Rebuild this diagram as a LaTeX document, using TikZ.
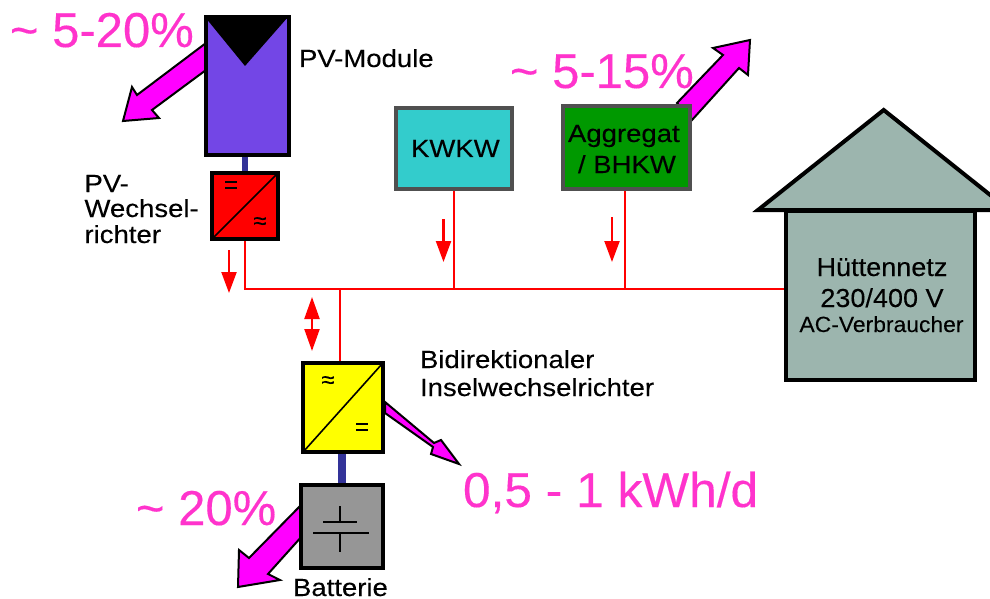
\documentclass[tikz,border=0pt]{standalone}
\usepackage{fontspec}
\setmainfont{Liberation Sans}
\newfontfamily\pinkfam[FakeBold=0.25]{Liberation Sans}
\newfontfamily\pinkwide[FakeBold=0.25,FakeStretch=1.013]{Liberation Sans}
\newfontfamily\blackfam[FakeStretch=1.11,FakeBold=0.2]{Liberation Sans}
\newfontfamily\housefam[FakeStretch=1.04,FakeBold=0.1]{Liberation Sans}
\newfontfamily\symfam[FakeBold=0.3]{Liberation Sans}
\usetikzlibrary{arrows.meta,calc}
\definecolor{pvviolet}{HTML}{7346E6}
\definecolor{navyc}{HTML}{333399}
\definecolor{pinktxt}{HTML}{FF33CC}
\definecolor{magentaf}{HTML}{FF00FF}
\definecolor{kwkwc}{HTML}{33CCCC}
\definecolor{aggc}{HTML}{009900}
\definecolor{housec}{HTML}{9CB5AE}
\definecolor{battc}{HTML}{969696}
\definecolor{edgegrey}{HTML}{505050}
\definecolor{invyellow}{HTML}{FFFF00}
\tikzset{
  box/.style={draw=black,line width=4pt,rectangle,inner sep=0pt},
  gbox/.style={draw=edgegrey,line width=4pt,rectangle,inner sep=0pt},
  lab/.style={anchor=base west,inner sep=0pt,outer sep=0pt,font=\blackfam\fontsize{24.8}{26}\selectfont,text=black},
  hlab/.style={anchor=base,inner sep=0pt,outer sep=0pt,font=\housefam\fontsize{26}{28}\selectfont,text=black},
  pinklab/.style={anchor=base west,inner sep=0pt,outer sep=0pt,font=\pinkfam\fontsize{49}{50}\selectfont,text=pinktxt},
  sym/.style={inner sep=0pt,outer sep=0pt,font=\symfam\fontsize{24}{24}\selectfont,text=black},
  loss/.style={draw=black,line width=2pt,fill=magentaf,line join=miter},
  bus/.style={draw=red,line width=2pt},
  flow/.style={draw=red,line width=2.2pt,-{Triangle[width=15pt,length=21pt]}},
  bothflow/.style={draw=red,line width=2.2pt,{Triangle[width=15pt,length=22pt]}-{Triangle[width=15pt,length=22pt]}},
  dclink/.style={draw=navyc},
  thin/.style={draw=black,line width=1.6pt}
}
\begin{document}
\begin{tikzpicture}[x=1pt,y=-1pt]
\path[use as bounding box,clip] (0,0) rectangle (990,599);
\fill[white] (0,0) rectangle (990,599);

% loss arrows (behind the boxes)
\path[loss] (206,43) -- (137,95) -- (132,87) -- (123,121) -- (159,118) -- (152,110) -- (206,70) -- cycle;
\path[loss] (677,103) -- (723,55) -- (713,48) -- (750,40) -- (748,75) -- (739,68) -- (692,120) -- cycle;
\path[loss] (385,402) -- (434,443) -- (441,440) -- (459,464) -- (431,454) -- (433,447) -- (385,413) -- cycle;
\path[loss] (303,503) -- (249,558) -- (239,550) -- (238,587) -- (280,580) -- (268,574) -- (303,535) -- cycle;

% boxes
\node[box,fill=pvviolet,minimum width=83pt,minimum height=138pt] (pv) at (247,86) {};
\fill[black] (205,17) -- (288,17) -- (245,66) -- cycle;
\node[box,fill=red,minimum width=66pt,minimum height=66pt] (pvinv) at (245,206) {};
\node[gbox,fill=kwkwc,minimum width=116pt,minimum height=81pt] (kwkw) at (454,148.5) {};
\node[gbox,fill=aggc,minimum width=127pt,minimum height=83pt] (agg) at (626.5,147.5) {};
\node[box,fill=invyellow,minimum width=80pt,minimum height=89pt] (inv) at (343,407.5) {};
\node[box,fill=battc,minimum width=82pt,minimum height=83pt] (batt) at (342,526.5) {};

% house
\path[draw=black,line width=4pt,fill=housec,line join=miter] (758,210) -- (883.7,110) -- (1009,210) -- cycle;
\node[draw=black,line width=4pt,fill=housec,rectangle,inner sep=0pt,minimum width=188.5pt,minimum height=169pt] (house) at (880.7,295.5) {};

% bus coordinates
\coordinate (j1) at (245,289);
\coordinate (j2) at (340,289);
\coordinate (j3) at (454,289);
\coordinate (j4) at (625,289);
\coordinate (busE) at (house.west |- j1);

% red bus and drops
\draw[bus] (pvinv.south) -- (j1) -- (busE);
\draw[bus] (kwkw.south) -- (j3);
\draw[bus] (agg.south -| j4) -- (j4);
\draw[bus] (j2) -- (inv.north -| j2);

% DC links
\draw[dclink,line width=6pt] (pv.south -| pvinv.north) -- (pvinv.north);
\draw[dclink,line width=8pt] (inv.south -| batt.north) -- (batt.north);

% converter diagonals and symbols
\draw[thin] ($(pvinv.south west)+(3,-3)$) -- ($(pvinv.north east)+(-3,3)$);
\node[sym] (pvdc) at (231,187) {=};
\node[sym] (pvac) at (260,223) {≈};
\draw[thin] ($(inv.south west)+(3,-3)$) -- ($(inv.north east)+(-3,3)$);
\node[sym] (invac) at (328,382) {≈};
\node[sym] (invdc) at (362,429) {=};

% battery symbol
\coordinate (capA) at (340,506);
\coordinate (capB) at (340,522);
\coordinate (capC) at (340,533);
\coordinate (capD) at (340,552);
\draw[thin] (capA) -- (capB);
\draw[thin] (capC) -- (capD);
\draw[thin] (323,522) -- (357,522);
\draw[thin] (313,533) -- (369,533);

% flow arrows
\coordinate (fa1) at (229,250); \coordinate (fa2) at (229,293);
\coordinate (fb1) at (443.5,219); \coordinate (fb2) at (443.5,262);
\coordinate (fc1) at (612,217); \coordinate (fc2) at (612,262);
\coordinate (fd1) at (312,297); \coordinate (fd2) at (312,351);
\draw[flow] (fa1) -- (fa2);
\draw[flow] (fb1) -- (fb2);
\draw[flow] (fc1) -- (fc2);
\draw[bothflow] (fd1) -- (fd2);

% labels
\node[pinklab] (t1) at (10,47) {\char`~{} 5-20\%};
\node[pinklab] (t2) at (510,88) {\char`~{} 5-15\%};
\node[pinklab] (t3) at (136,525) {\char`~{} 20\%};
\node[pinklab,font=\pinkwide\fontsize{49}{50}\selectfont] (t4) at (463,507) {0,5 - 1 kWh/d};
\node[lab] (l1) at (299,67) {PV-Module};
\node[lab] (l2a) at (84.5,192) {PV-};
\node[lab] (l2b) at (84.5,217) {Wechsel-};
\node[lab] (l2c) at (84.5,243) {richter};
\node[lab] (l3) at (411,157) {KWKW};
\node[lab] (l4a) at (568,142) {Aggregat};
\node[lab] (l4b) at (578,173) {/ BHKW};
\node[lab] (l5a) at (420,368) {Bidirektionaler};
\node[lab] (l5b) at (420,396) {Inselwechselrichter};
\node[lab] (l6) at (293,596) {Batterie};
\node[hlab] (h1) at (882,276) {Hüttennetz};
\node[hlab] (h2) at (882,307) {230/400 V};
\node[hlab,font=\housefam\fontsize{22}{24}\selectfont] (h3) at (881.5,332) {AC-Verbraucher};
\end{tikzpicture}
\end{document}
